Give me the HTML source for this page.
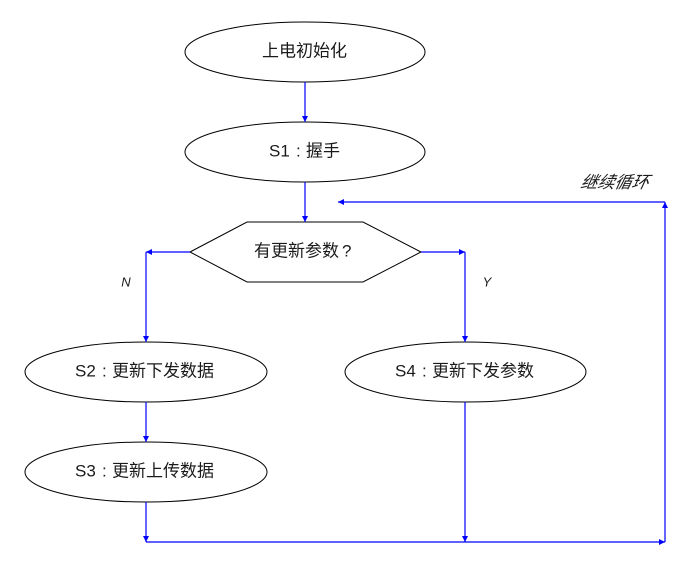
<!DOCTYPE html>
<html>
<head>
<meta charset="utf-8">
<style>
html,body{margin:0;padding:0;background:#fff;}
svg{display:block;}
text{font-family:"Liberation Sans","Noto Sans CJK SC",sans-serif;fill:#1a1a1a;}
</style>
</head>
<body>
<svg width="689" height="564" viewBox="0 0 689 564" xmlns="http://www.w3.org/2000/svg">
<defs>
<marker id="ah" viewBox="0 0 10 10" refX="10" refY="5" markerWidth="6" markerHeight="6" markerUnits="userSpaceOnUse" orient="auto">
<path d="M0,0 L10,5 L0,10 z" fill="#0000ff"/>
</marker>
</defs>

<!-- shapes -->
<ellipse cx="305" cy="52" rx="120" ry="30" fill="#fff" stroke="#000" stroke-width="1"/>
<ellipse cx="305" cy="152" rx="120" ry="30" fill="#fff" stroke="#000" stroke-width="1"/>
<polygon points="190,252 247,222 363,222 421,252 363,282 247,282" fill="#fff" stroke="#000" stroke-width="1"/>
<ellipse cx="146" cy="372" rx="121" ry="30" fill="#fff" stroke="#000" stroke-width="1"/>
<ellipse cx="146" cy="472" rx="121" ry="30" fill="#fff" stroke="#000" stroke-width="1"/>
<ellipse cx="465.5" cy="372" rx="120.5" ry="30" fill="#fff" stroke="#000" stroke-width="1"/>

<!-- connectors -->
<g stroke="#0000ff" stroke-width="1.2" fill="none">
<line x1="305" y1="82" x2="305" y2="122" marker-end="url(#ah)"/>
<line x1="305" y1="182" x2="305" y2="222" marker-end="url(#ah)"/>
<line x1="190" y1="252" x2="146" y2="252" marker-end="url(#ah)"/>
<line x1="146" y1="252" x2="146" y2="342" marker-end="url(#ah)"/>
<line x1="421" y1="252" x2="465" y2="252" marker-end="url(#ah)"/>
<line x1="465" y1="252" x2="465" y2="342" marker-end="url(#ah)"/>
<line x1="146" y1="402" x2="146" y2="442" marker-end="url(#ah)"/>
<line x1="146" y1="502" x2="146" y2="542" marker-end="url(#ah)"/>
<line x1="465" y1="402" x2="465" y2="542" marker-end="url(#ah)"/>
<line x1="146" y1="542" x2="665" y2="542" marker-end="url(#ah)"/>
<line x1="665" y1="542" x2="665" y2="202" marker-end="url(#ah)"/>
<line x1="665" y1="202" x2="338" y2="202" marker-end="url(#ah)"/>
</g>

<!-- labels -->
<g font-size="17" dominant-baseline="central">
<text x="262" y="51">上电初始化</text>

<text x="269" y="151">S1</text><text x="296" y="151">:</text><text x="306" y="151">握手</text>

<text x="254" y="251">有更新参数</text><text x="342" y="251">?</text>

<text x="75" y="371">S2</text><text x="102" y="371">:</text><text x="112" y="371">更新下发数据</text>
<text x="75" y="471">S3</text><text x="102" y="471">:</text><text x="112" y="471">更新上传数据</text>
<text x="395" y="371">S4</text><text x="422" y="371">:</text><text x="432" y="371">更新下发参数</text>
</g>
<g font-size="13" font-style="italic" text-anchor="middle" dominant-baseline="central">
<text x="126" y="282">N</text>
<text x="487" y="282">Y</text>
</g>
<text x="615" y="182" font-size="17" font-style="italic" text-anchor="middle" dominant-baseline="central" transform="translate(615,182) skewX(-12) translate(-615,-182)">继续循环</text>
</svg>
</body>
</html>
